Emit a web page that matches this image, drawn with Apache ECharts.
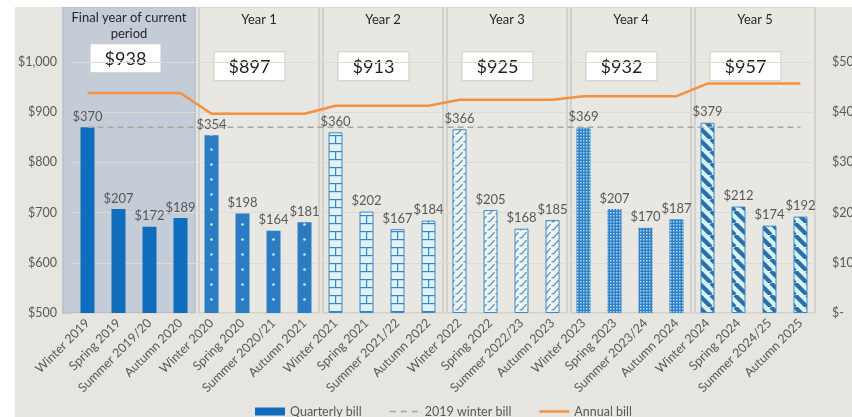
<!DOCTYPE html>
<html>
<head>
<meta charset="utf-8">
<script src="https://cdn.jsdelivr.net/npm/echarts@6/dist/echarts.min.js"></script>
<style>
  html, body { margin: 0; padding: 0; background: #fff; }
  #chart { position: absolute; left: 15px; top: 7px; width: 837px; height: 410px; }
</style>
</head>
<body>
<div id="chart"></div>
<script>
// quarterly bills, 4 per year
const categories = [
  'Winter 2019', 'Spring 2019', 'Summer 2019/20', 'Autumn 2020',
  'Winter 2020', 'Spring 2020', 'Summer 2020/21', 'Autumn 2021',
  'Winter 2021', 'Spring 2021', 'Summer 2021/22', 'Autumn 2022',
  'Winter 2022', 'Spring 2022', 'Summer 2022/23', 'Autumn 2023',
  'Winter 2023', 'Spring 2023', 'Summer 2023/24', 'Autumn 2024',
  'Winter 2024', 'Spring 2024', 'Summer 2024/25', 'Autumn 2025'
];
const quarterlyBills = [
  370, 207, 172, 189,
  354, 198, 164, 181,
  360, 202, 167, 184,
  366, 205, 168, 185,
  369, 207, 170, 187,
  379, 212, 174, 192
];
const yearTitles = ['Final year of current\nperiod', 'Year 1', 'Year 2', 'Year 3', 'Year 4', 'Year 5'];
const annualBills = [938, 897, 913, 925, 932, 957];
const winter2019Bill = 370;
const leftTicks = [500, 600, 700, 800, 900, 1000];
const rightTicks = [0, 100, 200, 300, 400, 500];

const FONT = 'Lato, "Liberation Sans", sans-serif';
const GREY = '#595959';

function makePattern(w, h, draw) {
  const c = document.createElement('canvas');
  c.width = w; c.height = h;
  draw(c.getContext('2d'), w, h);
  return { image: c, repeat: 'repeat' };
}

// bar fills, one per year
const patterns = [
  '#106cbc',
  makePattern(31, 15, (ctx, w, h) => {
    ctx.fillStyle = '#2c7cc3'; ctx.fillRect(0, 0, w, h);
    ctx.fillStyle = '#c8ecff';
    ctx.beginPath(); ctx.arc(10.5, 7.5, 1.3, 0, Math.PI * 2); ctx.fill();
  }),
  makePattern(31, 16, (ctx, w, h) => {
    ctx.fillStyle = '#def3fb'; ctx.fillRect(0, 0, w, h);
    ctx.fillStyle = '#3b84c4';
    ctx.fillRect(0, 0, w, 1.2); ctx.fillRect(0, 8, w, 1.2);
    ctx.fillRect(10, 0, 1.2, 8);
    ctx.fillRect(3, 8, 1.2, 8); ctx.fillRect(17, 8, 1.2, 8);
  }),
  makePattern(8, 8, (ctx, w, h) => {
    ctx.fillStyle = '#eaf7fc'; ctx.fillRect(0, 0, w, h);
    ctx.strokeStyle = '#4f7194'; ctx.lineWidth = 1.1;
    ctx.beginPath(); ctx.moveTo(0.5, 7); ctx.lineTo(3, 6.5); ctx.lineTo(7.5, 1); ctx.stroke();
  }),
  makePattern(3, 3, (ctx, w, h) => {
    ctx.fillStyle = '#2f80c6'; ctx.fillRect(0, 0, w, h);
    ctx.fillStyle = '#a9d5f2'; ctx.fillRect(1, 1, 1.5, 1.5);
  }),
  makePattern(12, 12, (ctx, w, h) => {
    ctx.fillStyle = '#d6f4fc'; ctx.fillRect(0, 0, w, h);
    ctx.strokeStyle = '#2e6ea6'; ctx.lineWidth = 4.2;
    for (const s of [-12, 0, 12]) {
      ctx.beginPath(); ctx.moveTo(s, 0); ctx.lineTo(s + 12, 12); ctx.stroke();
    }
  })
];
const bordered = [false, false, true, true, false, true];

const barData = quarterlyBills.map((v, i) => {
  const y = Math.floor(i / 4);
  return {
    value: v,
    itemStyle: {
      color: patterns[y],
      borderColor: bordered[y] ? '#3d88c9' : 'transparent',
      borderWidth: bordered[y] ? 1 : 0
    }
  };
});
const annualLine = categories.map((c, i) => annualBills[Math.floor(i / 4)]);
const winterLine = categories.map(() => winter2019Bill);
const panelData = yearTitles.map((t, i) => [i * 4, i * 4 + 3, 1110]);

// legend icons: plain line / dashed line, with invisible corner dots to keep the 30x8 box
const dashIcon = 'path://M0,0h.01v.01h-.01z M0,3.3h6v1.4h-6z M11,3.3h6v1.4h-6z M22,3.3h6v1.4h-6z M29.99,7.99h.01v.01h-.01z';
const lineIcon = 'path://M0,0h.01v.01h-.01z M0,2.8h30v2.4h-30z M29.99,7.99h.01v.01h-.01z';

function renderPanel(params, api) {
  const i = params.dataIndex;
  const band = api.size([1, 0])[0];
  const first = i === 0;
  const x0 = api.coord([api.value(0), 500])[0] - band / 2 + (first ? -9 : 3);
  const x1 = api.coord([api.value(1), 500])[0] + band / 2 - 1;
  const yTop = api.coord([0, api.value(2)])[1];
  const yBot = api.coord([0, 500])[1];
  const cx = (x0 + x1) / 2;
  const bx = cx - (first ? 3.5 : 9.5);
  const by = yTop + (first ? 37 : 45);
  return {
    type: 'group',
    children: [
      {
        type: 'rect',
        shape: { x: x0, y: yTop, width: x1 - x0, height: yBot - yTop },
        style: first
          ? { fill: '#c4ccd7', stroke: '#b2bfd0', lineWidth: 1.5 }
          : { fill: '#e8e7e2', stroke: '#cacac5', lineWidth: 1.5 }
      },
      {
        type: 'text',
        style: {
          text: yearTitles[i], x: cx, y: yTop + (first ? 19 : 13),
          align: 'center', verticalAlign: 'middle',
          fontFamily: FONT, fontSize: 13, lineHeight: 16, fill: '#262626'
        }
      },
      {
        type: 'rect',
        shape: { x: bx - 35.5, y: by, width: 71, height: 29 },
        style: { fill: '#fff', stroke: '#c9c9c9', lineWidth: 1 }
      },
      {
        type: 'text',
        style: {
          text: '$' + annualBills[i], x: bx, y: by + 15,
          align: 'center', verticalAlign: 'middle',
          fontFamily: FONT, fontSize: 18, fill: '#1f1f1f'
        }
      }
    ]
  };
}

const chart = echarts.init(document.getElementById('chart'));
chart.setOption({
  backgroundColor: '#e6e5df',
  textStyle: { fontFamily: FONT },
  animation: false,
  grid: { left: 57, right: 36, top: 55, bottom: 104, containLabel: false, outerBoundsMode: 'none' },
  legend: {
    data: [
      { name: 'Quarterly bill', icon: 'rect' },
      { name: '2019 winter bill', icon: dashIcon },
      { name: 'Annual bill', icon: lineIcon }
    ],
    left: 235,
    top: 393,
    itemWidth: 30,
    itemHeight: 8,
    itemGap: 28,
    textStyle: { color: GREY, fontSize: 12.5, fontFamily: FONT }
  },
  xAxis: {
    type: 'category',
    data: categories,
    axisLine: { lineStyle: { color: '#d4d4cf' } },
    axisTick: { length: 5, lineStyle: { color: '#d4d4cf' } },
    axisLabel: { rotate: 45, color: GREY, fontSize: 12.5, margin: 8, interval: 0 }
  },
  yAxis: [
    {
      type: 'value',
      min: leftTicks[0],
      max: leftTicks[leftTicks.length - 1],
      interval: 100,
      z: 1,
      axisLine: { show: false },
      axisTick: { show: false },
      splitLine: { lineStyle: { color: '#dcdcd5' } },
      axisLabel: {
        color: GREY, fontSize: 12.5, margin: 15,
        formatter: (v) => '$' + v.toLocaleString('en-US')
      }
    },
    {
      type: 'value',
      min: rightTicks[0],
      max: rightTicks[rightTicks.length - 1],
      interval: 100,
      axisLine: { show: false },
      axisTick: { show: false },
      splitLine: { show: false },
      axisLabel: {
        color: GREY, fontSize: 12.5, margin: 16,
        formatter: (v) => (v === 0 ? '$-' : '$' + v)
      }
    }
  ],
  series: [
    {
      type: 'custom',
      name: 'panels',
      z: 0,
      clip: false,
      silent: true,
      encode: { x: [0, 1], y: 2 },
      data: panelData,
      renderItem: renderPanel
    },
    {
      name: 'Quarterly bill',
      type: 'bar',
      yAxisIndex: 1,
      barWidth: 14,
      z: 2,
      itemStyle: { color: '#106cbc' },
      label: {
        show: true, position: 'top', distance: 4,
        color: GREY, fontSize: 13,
        formatter: (p) => '$' + p.value
      },
      data: barData
    },
    {
      name: '2019 winter bill',
      type: 'line',
      yAxisIndex: 1,
      symbol: 'none',
      z: 3,
      lineStyle: { color: '#a5a5a5', width: 1.5, type: [6, 4] },
      itemStyle: { color: '#a5a5a5' },
      data: winterLine
    },
    {
      name: 'Annual bill',
      type: 'line',
      yAxisIndex: 0,
      symbol: 'none',
      z: 4,
      lineStyle: { color: '#f4913f', width: 2.5 },
      itemStyle: { color: '#f4913f' },
      data: annualLine
    }
  ]
});
window.addEventListener('resize', () => chart.resize());
</script>
</body>
</html>
